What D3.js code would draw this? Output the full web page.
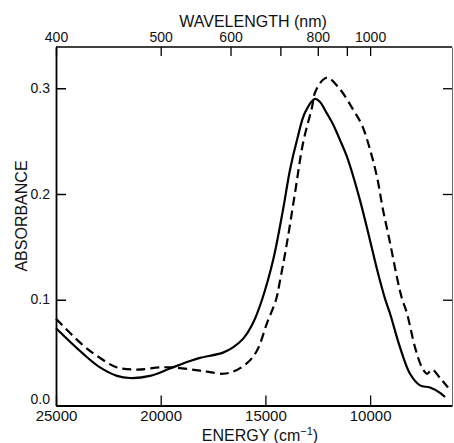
<!DOCTYPE html>
<html>
<head>
<meta charset="utf-8">
<script src="https://cdn.jsdelivr.net/npm/d3@7"></script>
<style>
body { margin: 0; background: #fff; }
text { font-family: "Liberation Sans", Arial, sans-serif; fill: #111; }
</style>
</head>
<body>
<div id="chart"></div>
<script>
var width = 454;
var height = 443;

// energy (cm-1) and absorbance
var solidEnergy = [25000, 23711, 22899, 22087, 21466, 20511, 19556, 18601, 18123, 17025, 16547, 16070, 15592, 15162, 14637, 14160, 13825, 13491, 13109, 12631, 12393, 12058, 11772, 11438, 11103, 10482, 10004, 9622, 9289, 9050, 8572, 8094, 7617, 7139, 6662, 6423];
var solidAbs = [0.073, 0.049, 0.036, 0.028, 0.026, 0.028, 0.035, 0.042, 0.045, 0.050, 0.055, 0.063, 0.078, 0.100, 0.137, 0.185, 0.223, 0.251, 0.277, 0.290, 0.287, 0.276, 0.266, 0.251, 0.235, 0.194, 0.156, 0.125, 0.101, 0.087, 0.055, 0.030, 0.019, 0.017, 0.012, 0.008];

var dashEnergy = [25000, 23711, 22899, 22087, 21132, 20034, 19413, 18123, 17789, 17025, 16547, 15879, 15401, 14924, 14494, 14303, 13969, 13587, 13205, 12775, 12631, 12249, 12011, 11438, 10817, 10387, 10004, 9670, 9384, 9050, 8716, 8477, 8238, 7856, 7522, 7283, 7044, 6662, 6280];
var dashAbs = [0.082, 0.057, 0.045, 0.036, 0.034, 0.036, 0.036, 0.033, 0.032, 0.030, 0.032, 0.040, 0.052, 0.078, 0.100, 0.118, 0.154, 0.201, 0.248, 0.282, 0.296, 0.308, 0.310, 0.299, 0.280, 0.265, 0.242, 0.216, 0.185, 0.154, 0.121, 0.101, 0.087, 0.055, 0.036, 0.030, 0.034, 0.026, 0.017];

var energyTicks = [25000, 20000, 15000, 10000];
var absTicks = [0.0, 0.1, 0.2, 0.3];
var waveTicks = [400, 500, 600, 700, 800, 900, 1000];
var waveLabels = [400, 500, 600, 800, 1000];

var x = d3.scaleLinear().domain([25000, 6090]).range([56, 452]);
var y = d3.scaleLinear().domain([0, 0.339]).range([405.5, 47]);

var svg = d3.select("#chart").append("svg")
  .attr("width", width)
  .attr("height", height);

// bottom axis
var bottomAxis = svg.append("g")
  .attr("transform", "translate(0," + y(0) + ")")
  .call(d3.axisBottom(x).tickValues(energyTicks).tickSizeInner(-10).tickSizeOuter(0).tickPadding(5).tickFormat(d3.format("d")));
bottomAxis.select(".domain").attr("stroke-width", 2.2);
bottomAxis.selectAll(".tick line").attr("stroke-width", 1.3);
bottomAxis.selectAll("text").style("font-size", "15px").attr("fill", "#111");

// left axis
var leftAxis = svg.append("g")
  .attr("transform", "translate(" + x(25000) + ",0)")
  .call(d3.axisLeft(y).tickValues(absTicks).tickSizeInner(-10).tickSizeOuter(0).tickPadding(6).tickFormat(d3.format(".1f")));
leftAxis.select(".domain").attr("stroke-width", 1.8);
leftAxis.selectAll(".tick line").attr("stroke-width", 1.5);
leftAxis.selectAll("text").style("font-size", "14px").attr("fill", "#111")
  .attr("dy", function(d) { return d === 0 ? "-0.15em" : "0.3em"; });

// top axis in wavelength
var topAxis = svg.append("g")
  .attr("transform", "translate(0," + y(0.339) + ")")
  .call(d3.axisTop(x)
    .tickValues(waveTicks.map(function(w) { return 1e7 / w; }))
    .tickSizeInner(-9).tickSizeOuter(0).tickPadding(5)
    .tickFormat(function(e) {
      var w = Math.round(1e7 / e);
      return waveLabels.indexOf(w) >= 0 ? w : "";
    }));
topAxis.select(".domain").attr("stroke-width", 1.5).attr("d", "M56,0H452");
topAxis.selectAll(".tick line").attr("stroke-width", 1.3);
topAxis.selectAll("text").style("font-size", "14px").attr("fill", "#111");

// right axis
var rightAxis = svg.append("g")
  .attr("transform", "translate(452,0)")
  .call(d3.axisRight(y).tickValues([0.1, 0.2, 0.3]).tickSizeInner(-9).tickSizeOuter(0).tickFormat(""));
rightAxis.select(".domain").attr("stroke", "#666").attr("stroke-width", 1);
rightAxis.selectAll(".tick line").attr("stroke-width", 1.3);

// axis titles
svg.append("text").attr("x", 253).attr("y", 27).attr("text-anchor", "middle")
  .style("font-size", "16px").text("WAVELENGTH (nm)");
svg.append("text").attr("text-anchor", "middle")
  .attr("transform", "translate(27,216) rotate(-90)")
  .style("font-size", "16px").text("ABSORBANCE");
var et = svg.append("text").attr("x", 260).attr("y", 441).attr("text-anchor", "middle")
  .style("font-size", "16px");
et.append("tspan").text("ENERGY (cm");
et.append("tspan").attr("dy", -6).style("font-size", "11px").text("−1");
et.append("tspan").attr("dy", 6).text(")");

var line = d3.line()
  .x(function(d) { return x(d[0]); })
  .y(function(d) { return y(d[1]); })
  .curve(d3.curveCatmullRom.alpha(0.5));

svg.append("path")
  .datum(d3.zip(solidEnergy, solidAbs))
  .attr("d", line)
  .attr("fill", "none")
  .attr("stroke", "#000")
  .attr("stroke-width", 2.2);

svg.append("path")
  .datum(d3.zip(dashEnergy, dashAbs))
  .attr("d", line)
  .attr("fill", "none")
  .attr("stroke", "#000")
  .attr("stroke-width", 2.2)
  .attr("stroke-dasharray", "9,5");
</script>
</body>
</html>
